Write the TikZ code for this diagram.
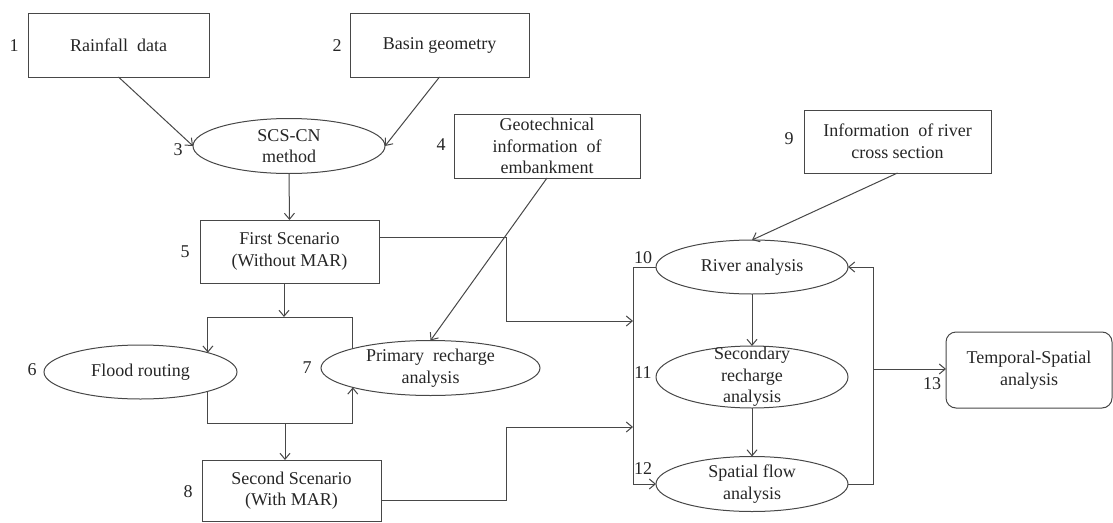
\documentclass[tikz,border=0pt]{standalone}
\usepackage{fontspec}
\setmainfont{Liberation Serif}
\usetikzlibrary{arrows.meta,shapes.geometric,calc}
\begin{document}
\begin{tikzpicture}[x=1pt,y=-1pt,
  every node/.style={font=\fontsize{18}{21.6}\selectfont, text=black!85},
  line/.style={draw=black!72, line width=1pt},
  arr/.style={line, -{Straight Barb[length=6pt,width=10pt]}},
  boxnode/.style={line, rectangle, inner sep=0pt, outer sep=0pt, align=center},
  ellnode/.style={line, ellipse, inner sep=0pt, outer sep=0pt},
  rbox/.style={boxnode, rounded corners=10pt},
  num/.style={inner sep=0pt}
]
\useasboundingbox (0,0) rectangle (1113,522);

% boxes
\node[boxnode, minimum width=181, minimum height=64] (rain) at (118.5,45) {Rainfall\ \ data};
\node[boxnode, minimum width=179, minimum height=64] (basin) at (439.5,45) {Basin geometry};
\node[boxnode, minimum width=179, minimum height=63] (first) at (289.5,251.5) {First Scenario\\(Without MAR)};
\node[boxnode, minimum width=179, minimum height=61] (second) at (291.5,490.5) {Second Scenario\\(With MAR)};
\node[boxnode, minimum width=186, minimum height=64] (geo) at (547,146) {Geotechnical\\information\ \ of\\embankment};
\node[boxnode, minimum width=187, minimum height=63] (info) at (897.5,141.5) {Information\ \ of river\\cross section};
\node[rbox, minimum width=166, minimum height=76] (temporal) at (1029,370) {Temporal-Spatial\\analysis};

% ellipses
\node[ellnode, minimum width=192, minimum height=55,
      label={[align=center]center:SCS-CN\\method}] (scs) at (289,146) {};
\node[ellnode, minimum width=193, minimum height=54,
      label={[align=center]center:Flood routing}] (flood) at (140.5,372) {};
\node[ellnode, minimum width=219, minimum height=55,
      label={[align=center]center:Primary\ \ recharge\\analysis}] (prim) at (430.5,368) {};
\node[ellnode, minimum width=192, minimum height=54,
      label={[align=center]center:River analysis}] (river) at (752,267) {};
\node[ellnode, minimum width=192, minimum height=62,
      label={[align=center]center:Secondary\\recharge\\analysis}] (secondary) at (752,377) {};
\node[ellnode, minimum width=192, minimum height=55,
      label={[align=center]center:Spatial flow\\analysis}] (spatial) at (752,484) {};

% numbers
\node[num] (n1) at (14,46) {1};
\node[num] (n2) at (337,46) {2};
\node[num] (n3) at (178,150) {3};
\node[num] (n4) at (441,145) {4};
\node[num] (n5) at (185,252) {5};
\node[num] (n6) at (32,370) {6};
\node[num] (n7) at (307,368) {7};
\node[num] (n8) at (188,492) {8};
\node[num] (n9) at (789,139) {9};
\node[num] (n10) at (643,258) {10};
\node[num] (n11) at (643,373) {11};
\node[num] (n12) at (643,469) {12};
\node[num] (n13) at (932,384) {13};

% helper coordinates
\coordinate (bt) at (284,317);
\coordinate (bb) at (285,423);
\coordinate (midx) at (506,0);
\coordinate (in1) at (633,321);
\coordinate (in2) at (633,427);
\coordinate (lbt) at (633,267);
\coordinate (lbb) at (633,484);
\coordinate (rbt) at (873,267);
\coordinate (rbb) at (873,484);
\coordinate (rbm) at (873,369);

% connectors
\draw[arr] (rain.south) -- (scs.west);
\draw[arr] (basin.south) -- (scs.east);
\draw[arr] (scs.south) -- (first.north);
\draw[arr] (first.south -| bt) -- (bt);
\draw[arr] (bt) -| (flood.16);
\draw[line] (bt) -| (prim.166);
\draw[line] (flood.-16) |- (bb);
\draw[arr] (bb) -| (prim.194);
\draw[arr] (bb) -- (second.north -| bb);
\draw[arr] (geo.south) -- (prim.north);
\draw[arr] ($(first.north east)!0.27!(first.south east)$) -| (midx |- in1) -- (in1);
\draw[arr] ($(second.north east)!0.66!(second.south east)$) -| (midx |- in2) -- (in2);
\draw[line] (river.west) -- (lbt) -- (lbb);
\draw[arr] (lbb) -- (spatial.west);
\draw[arr] (info.south) -- (river.north);
\draw[arr] (river.south) -- (secondary.north);
\draw[arr] (secondary.south) -- (spatial.north);
\draw[arr] (spatial.east) -- (rbb) -- (rbt) -- (river.east);
\draw[arr] (rbm) -- (temporal.west |- rbm);
\end{tikzpicture}
\end{document}
